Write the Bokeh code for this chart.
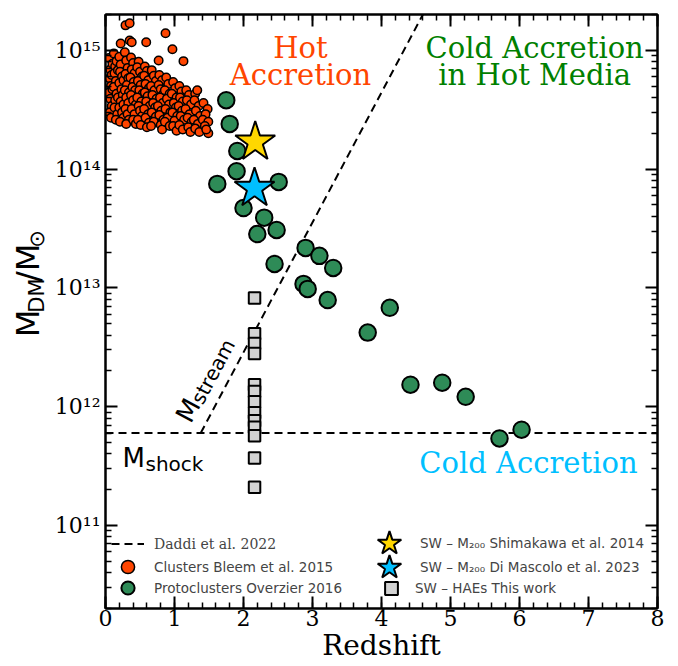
import math
from bokeh.plotting import figure
from bokeh.layouts import row
from bokeh.models import (Range1d, LinearAxis, LogAxis, SingleIntervalTicker, FixedTicker,
                          Label, Legend, LegendItem, CustomJSTickFormatter)
from bokeh.core.properties import value
from bokeh.embed import file_html
from bokeh.resources import INLINE

# ---------------- data ----------------
# Bleem et al. 2015 clusters: redshift, mass in units of 1e14 Msun
bleem_z = [0.05, 0.07, 0.06, 0.08, 0.05, 0.07, 0.09, 0.06, 0.08, 0.10, 0.10, 0.09,
           0.12, 0.14, 0.13, 0.15, 0.12, 0.16, 0.14, 0.13, 0.17, 0.15, 0.18, 0.18, 0.16,
           0.20, 0.22, 0.21, 0.24, 0.20, 0.23, 0.25, 0.22, 0.20, 0.24, 0.26, 0.21, 0.26, 0.26, 0.22,
           0.29, 0.35, 0.35, 0.38, 0.28, 0.30, 0.32, 0.29, 0.33, 0.31, 0.28, 0.34, 0.30, 0.33, 0.29, 0.32, 0.34, 0.30,
           0.37, 0.40, 0.38, 0.42, 0.36, 0.41, 0.39, 0.43, 0.37, 0.40, 0.44, 0.38, 0.42, 0.40, 0.44,
           0.48, 0.46, 0.50, 0.53, 0.47, 0.51, 0.49, 0.54, 0.46, 0.52, 0.48, 0.50, 0.53, 0.47, 0.51, 0.59,
           0.57, 0.60, 0.56, 0.62, 0.58, 0.63, 0.57, 0.61, 0.59, 0.64, 0.56, 0.62, 0.58, 0.63, 0.60,
           0.67, 0.70, 0.73, 0.66, 0.71, 0.68, 0.74, 0.69, 0.72, 0.67, 0.73, 0.70, 0.66, 0.77,
           0.78, 0.82, 0.77, 0.80, 0.84, 0.79, 0.83, 0.76, 0.81, 0.78, 0.84, 0.80, 0.82,
           0.87, 0.88, 0.91, 0.86, 0.93, 0.89, 0.92, 0.87, 0.94, 0.90, 0.86, 0.93, 0.97,
           0.98, 1.01, 0.96, 1.03, 0.99, 1.02, 0.97, 1.04, 1.00, 0.98, 1.03,
           1.07, 1.10, 1.08, 1.12, 1.06, 1.11, 1.09, 1.14, 1.07, 1.12, 1.13,
           1.17, 1.21, 1.18, 1.24, 1.16, 1.22, 1.19, 1.25, 1.20, 1.23,
           1.30, 1.33, 1.29, 1.35, 1.31, 1.37, 1.28, 1.34, 1.30, 1.36,
           1.42, 1.48, 1.45, 1.41, 1.49, 1.44, 1.49, 1.46]
bleem_m14 = [8.6, 6.9, 5.8, 5.0, 4.4, 3.9, 3.4, 3.0, 2.7, 7.7, 4.7, 6.2,
             9.4, 7.3, 6.4, 5.5, 4.9, 4.3, 3.8, 3.3, 2.9, 2.6, 6.8, 4.0, 8.1,
             8.8, 7.6, 6.6, 6.0, 5.3, 4.7, 4.2, 3.7, 3.3, 3.0, 2.7, 2.5, 5.6, 3.5, 11.4,
             16.2, 16.9, 12.1, 11.7, 9.6, 8.2, 7.1, 6.3, 5.8, 5.1, 4.6, 4.4, 4.0, 3.6, 3.2, 2.9, 2.6, 2.4,
             8.7, 7.8, 6.9, 6.4, 5.9, 5.4, 4.9, 4.6, 4.2, 3.8, 3.5, 3.2, 2.9, 2.6, 2.4,
             8.0, 7.2, 6.6, 6.0, 5.5, 5.1, 4.6, 4.3, 4.0, 3.7, 3.4, 3.1, 2.8, 2.6, 2.35, 11.7,
             7.3, 6.7, 6.1, 5.6, 5.2, 4.8, 4.4, 4.1, 3.7, 3.4, 3.2, 2.9, 2.7, 2.45, 2.25,
             6.8, 6.1, 5.5, 5.0, 4.6, 4.2, 3.9, 3.6, 3.3, 3.0, 2.75, 2.5, 2.3, 8.2,
             6.2, 5.6, 5.1, 4.7, 4.3, 4.0, 3.6, 3.4, 3.1, 2.85, 2.6, 2.35, 2.15,
             13.9, 5.9, 5.2, 4.6, 4.3, 3.9, 3.5, 3.2, 3.0, 2.7, 2.5, 2.3, 10.2,
             5.4, 4.8, 4.3, 4.0, 3.6, 3.3, 3.0, 2.8, 2.55, 2.3, 2.1,
             5.0, 4.5, 4.0, 3.7, 3.4, 3.1, 2.8, 2.6, 2.35, 2.15, 8.1,
             4.6, 4.2, 3.8, 3.5, 3.2, 2.9, 2.7, 2.5, 2.25, 2.05,
             4.3, 4.6, 3.8, 3.4, 3.1, 2.8, 2.6, 2.4, 2.2, 2.05,
             3.6, 3.2, 2.9, 2.6, 2.5, 2.3, 2.0, 2.15]
bleem_m = [m * 1e14 for m in bleem_m14]

# Overzier 2016 protoclusters
over_z = [1.75, 1.80, 1.91, 1.90, 1.62, 2.51, 2.00, 2.30, 2.48, 2.20, 2.45, 2.90,
          3.10, 3.30, 2.87, 2.93, 3.22, 4.12, 3.80, 4.42, 4.88, 5.22, 5.71, 6.03]
over_m = [3.8e14, 2.4e14, 1.42e14, 9.6e13, 7.5e13, 7.8e13, 4.7e13, 3.9e13, 3.07e13, 2.84e13,
          1.59e13, 2.17e13, 1.86e13, 1.47e13, 1.08e13, 9.8e12, 7.9e12, 6.8e12, 4.2e12,
          1.53e12, 1.59e12, 1.21e12, 5.4e11, 6.4e11]

# SW protocluster (this work)
shim_z = [2.17]
shim_m = [1.69e14]
dimas_z = [2.16]
dimas_m = [6.9e13]
hae_z = [2.16] * 13
hae_m = [8.2e12, 4.1e12, 3.4e12, 2.8e12, 1.53e12, 1.34e12, 1.10e12, 8.9e11, 7.6e11,
         6.7e11, 5.7e11, 3.7e11, 2.1e11]

# Daddi et al. 2022 thresholds
shock_z = [0.0, 8.0]
shock_m = [6e11, 6e11]
stream_z = [1.38, 4.6]
stream_m = [6e11, 2e15]

x_ticks_interval = 1
y_major = [1e11, 1e12, 1e13, 1e14, 1e15]
y_minor = [m * 10.0 ** e for e in range(10, 16) for m in range(2, 10)]

SERIF = "DejaVu Serif"
SANS = "DejaVu Sans"

# ---------------- y-label strip (left) ----------------
STRIP_W, H = 50, 666
s = figure(width=STRIP_W, height=H, x_range=Range1d(0, STRIP_W), y_range=Range1d(0, H),
           output_backend="svg", toolbar_location=None, x_axis_location=None,
           y_axis_location=None, min_border=0)
s.outline_line_color = None
s.xgrid.visible = False
s.ygrid.visible = False
s.background_fill_color = "white"
s.border_fill_color = "white"

big, small = 32, 21
w_M = 0.863 * big
w_DM = (0.770 + 0.863) * small
w_slM = (0.337 + 0.863) * big
w_sun = 0.838 * small
total = w_M + w_DM + w_slM + w_sun
ystart = (H - 303) - total / 2.0
xb, xs = 27, 36
vert = math.pi / 2
pieces = [("M", xb, ystart, big),
          ("DM", xs, ystart + w_M, small),
          ("/M", xb, ystart + w_M + w_DM, big),
          ("\u2299", xs, ystart + w_M + w_DM + w_slM, small)]
for t, xx, yy, fs in pieces:
    s.text(x=[xx], y=[yy], text=[t], angle=vert, text_font=value(SANS),
           text_font_size=value(f"{fs}px"), text_color="black", text_align="left",
           text_baseline="middle")

# ---------------- main figure ----------------
FL, FR, FT, FB = 105 - STRIP_W, 21, 14, 58
p = figure(width=678 - STRIP_W, height=H, x_range=Range1d(0, 8), y_range=Range1d(2e10, 2e15),
           y_axis_type="log", output_backend="svg", toolbar_location=None,
           min_border_left=FL, min_border_right=FR, min_border_top=FT, min_border_bottom=FB)
p.xgrid.visible = False
p.ygrid.visible = False
p.outline_line_color = "black"
p.outline_line_width = 2
p.background_fill_color = "white"
p.border_fill_color = "white"

sup_code = """
const sup = ["\u2070","\u00b9","\u00b2","\u00b3","\u2074","\u2075","\u2076","\u2077","\u2078","\u2079"];
const e = Math.round(Math.log10(tick));
return "10" + String(e).split("").map(d => sup[+d]).join("");
"""


def style_axis(ax, labels=True):
    ax.major_tick_in = 12
    ax.major_tick_out = 0
    ax.minor_tick_in = 6
    ax.minor_tick_out = 0
    ax.major_tick_line_width = 2
    ax.minor_tick_line_width = 1.5
    ax.major_tick_line_color = "black"
    ax.minor_tick_line_color = "black"
    ax.axis_line_width = 2
    ax.axis_line_color = "black"
    if labels:
        ax.major_label_text_font = SERIF
        ax.major_label_text_font_size = "22px"
        ax.major_label_text_color = "black"
    else:
        ax.formatter = CustomJSTickFormatter(code="return ''")
        ax.major_label_text_font_size = "1px"
        ax.major_label_standoff = 0


xax = p.xaxis[0]
xax.ticker = SingleIntervalTicker(interval=x_ticks_interval, num_minor_ticks=5)
style_axis(xax)
xax.major_label_standoff = 1
xax.axis_label = "Redshift"
xax.axis_label_text_font = SERIF
xax.axis_label_text_font_size = "28px"
xax.axis_label_text_font_style = "normal"
xax.axis_label_text_color = "black"
xax.axis_label_standoff = 0

yax = p.yaxis[0]
yax.ticker = FixedTicker(ticks=y_major, minor_ticks=y_minor)
yax.formatter = CustomJSTickFormatter(code=sup_code)
style_axis(yax)
yax.major_label_standoff = 5

top = LinearAxis(ticker=SingleIntervalTicker(interval=x_ticks_interval, num_minor_ticks=5))
style_axis(top, labels=False)
p.add_layout(top, "above")
right = LogAxis(ticker=FixedTicker(ticks=y_major, minor_ticks=y_minor))
style_axis(right, labels=False)
p.add_layout(right, "right")

# ---------------- glyphs ----------------
r_shock = p.line(shock_z, shock_m, line_color="black", line_width=2, line_dash="8 5")
r_stream = p.line(stream_z, stream_m, line_color="black", line_width=2, line_dash="8 5")
r_bleem = p.scatter(bleem_z, bleem_m, size=8.5, fill_color="#ff4500", line_color="black",
                    line_width=1.5)
r_over = p.scatter(over_z, over_m, size=16.5, fill_color="#2e8b57", line_color="black",
                   line_width=2)
r_hae = p.scatter(hae_z, hae_m, marker="square", size=11.5, fill_color="#d3d3d3",
                  line_color="black", line_width=2)
r_shim = p.scatter(shim_z, shim_m, marker="star", size=42, fill_color="#ffd700",
                   line_color="black", line_width=2)
r_dimas = p.scatter(dimas_z, dimas_m, marker="star", size=42, fill_color="#00bfff",
                    line_color="black", line_width=2)


# ---------------- region labels ----------------
def lab(text, x, y, size, color="black", font=SERIF, align="center", angle=0.0):
    p.add_layout(Label(text=text, x=x, y=y, text_font=font, text_font_size=size,
                       text_color=color, text_align=align, text_baseline="alphabetic",
                       angle=angle))


lab("Hot", 2.826, 10 ** 15.017, "29px", "#ff4500")
lab("Accretion", 2.826, 10 ** 14.79, "29px", "#ff4500")
lab("Cold Accretion", 6.22, 10 ** 15.017, "29px", "#008000")
lab("in Hot Media", 6.22, 10 ** 14.79, "29px", "#008000")
lab("Cold Accretion", 6.13, 10 ** 11.529, "29px", "#00bfff")

lab("M", 0.246, 10 ** 11.571, "26px", font=SANS, align="left")
lab("shock", 0.58, 10 ** 11.521, "20px", font=SANS, align="left")
ang = math.radians(62)
lab("M", 1.12, 10 ** 11.885, "26px", font=SANS, align="left", angle=ang)
lab("stream", 1.32, 10 ** 12.035, "20px", font=SANS, align="left", angle=ang)


# ---------------- legends ----------------
def add_legend(text, rend, loc, gw, gh, standoff, font, size="13.5px"):
    lg = Legend(items=[LegendItem(label=text, renderers=[rend])], location=loc,
                glyph_width=gw, glyph_height=gh, label_standoff=standoff,
                label_text_font=font, label_text_font_size=size, label_height=gh,
                padding=0, margin=0, spacing=0, border_line_color=None,
                background_fill_alpha=0)
    p.add_layout(lg)


add_legend("Daddi et al. 2022", r_shock, (6, 48), 33, 33, 10, SERIF, "14px")
add_legend("Clusters Bleem et al. 2015", r_bleem, (6, 25), 33, 33, 10, SANS)
add_legend("Protoclusters Overzier 2016", r_over, (6, 4), 33, 33, 10, SANS)
add_legend("SW \u2013 M\u2082\u2080\u2080 Shimakawa et al. 2014", r_shim, (253, 34), 62, 62, 0, SANS)
add_legend("SW \u2013 M\u2082\u2080\u2080 Di Mascolo et al. 2023", r_dimas, (253, 10), 62, 62, 0, SANS)
add_legend("SW \u2013 HAEs This work", r_hae, (270, 4), 32, 32, 8, SANS)

layout = row(s, p, spacing=0)
open("out.html", "w", encoding="utf-8").write(file_html(layout, INLINE))
